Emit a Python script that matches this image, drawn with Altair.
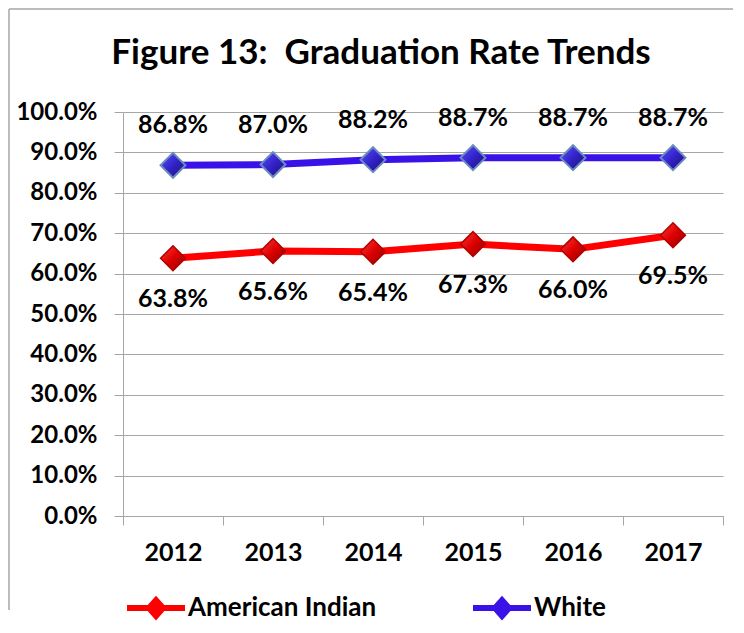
import altair as alt
import pandas as pd

years = ["2012", "2013", "2014", "2015", "2016", "2017"]
american_indian = [63.8, 65.6, 65.4, 67.3, 66.0, 69.5]
white = [86.8, 87.0, 88.2, 88.7, 88.7, 88.7]
series = ["American Indian", "White"]
line_colors = ["#FF0000", "#3A12E8"]

rows = []
for yr, a, w in zip(years, american_indian, white):
    rows.append({"year": yr, "series": "American Indian", "rate": a / 100})
    rows.append({"year": yr, "series": "White", "rate": w / 100})
df = pd.DataFrame(rows)

FONT = "Lato"
GRID = "#A6A6A6"

x = alt.X(
    "year:O", title=None, sort=years,
    scale=alt.Scale(type="band", paddingInner=0, paddingOuter=0),
    axis=alt.Axis(labelAngle=0, labelFontSize=25, labelFontWeight="bold", labelColor="black",
                  tickBand="extent", tickSize=9, tickColor=GRID, domainColor=GRID,
                  labelPadding=15, grid=False),
)
y = alt.Y(
    "rate:Q", title=None, scale=alt.Scale(domain=[0, 1], nice=False),
    axis=alt.Axis(tickCount=10, format=".1%", labelFontSize=24, labelFontWeight="bold",
                  labelColor="black", tickSize=9, tickColor=GRID, domainColor=GRID,
                  gridColor=GRID, labelPadding=17),
)

LEGEND_PATH = ("M-1,0H1 M0,-0.27L0.24,0L0,0.27L-0.24,0Z "
               "M0,-0.13L0.12,0L0,0.13L-0.12,0Z")

base = alt.Chart(df)

lines = base.mark_line(strokeWidth=7).encode(
    x=x, y=y,
    color=alt.Color(
        "series:N", scale=alt.Scale(domain=series, range=line_colors),
        legend=alt.Legend(title=None, orient="none", legendX=1, legendY=464,
                          direction="horizontal", symbolType=LEGEND_PATH, symbolSize=3364,
                          symbolStrokeWidth=6, labelFontSize=26, labelFontWeight="bold",
                          labelColor="black", columnPadding=84, labelOffset=0,
                          labelLimit=400),
    ),
)

red_grad = alt.Gradient(gradient="linear", x1=0, y1=0, x2=1, y2=1,
                        stops=[alt.GradientStop(color="#FF3A3A", offset=0),
                               alt.GradientStop(color="#DD0000", offset=0.5),
                               alt.GradientStop(color="#8A0000", offset=1)])
blue_grad = alt.Gradient(gradient="linear", x1=0, y1=0, x2=1, y2=1,
                         stops=[alt.GradientStop(color="#5A50FF", offset=0),
                                alt.GradientStop(color="#3322C8", offset=0.5),
                                alt.GradientStop(color="#1A1070", offset=1)])

pts_ai = base.transform_filter(alt.datum.series == "American Indian").mark_point(
    shape="diamond", filled=True, size=620, fill=red_grad, stroke="#B00000",
    strokeWidth=1.5, opacity=1).encode(x=x, y=y)
pts_w = base.transform_filter(alt.datum.series == "White").mark_point(
    shape="diamond", filled=True, size=620, fill=blue_grad, stroke="#6A8BC0",
    strokeWidth=2, opacity=1).encode(x=x, y=y)

txt_w = base.transform_filter(alt.datum.series == "White").mark_text(
    dy=-40, fontSize=25, fontWeight="bold", color="black").encode(
    x=x, y=y, text=alt.Text("rate:Q", format=".1%"))
txt_ai = base.transform_filter(alt.datum.series == "American Indian").mark_text(
    dy=41, fontSize=25, fontWeight="bold", color="black").encode(
    x=x, y=y, text=alt.Text("rate:Q", format=".1%"))

frame_df = pd.DataFrame({"k": [0]})
frame_left = alt.Chart(frame_df).mark_rule(color=GRID, strokeWidth=1.5).encode(
    x=alt.value(-114), y=alt.value(-103), y2=alt.value(498))
frame_top = alt.Chart(frame_df).mark_rule(color=GRID, strokeWidth=1.5).encode(
    x=alt.value(-114), x2=alt.value(610), y=alt.value(-103))

chart = alt.layer(frame_left, frame_top, lines, pts_ai, pts_w, txt_w, txt_ai).properties(
    width=600, height=404,
    padding={"left": 0, "top": 0, "right": 0, "bottom": 0},
    title=alt.Title("Figure 13:\u00a0 Graduation Rate Trends", fontSize=35, fontWeight="bold",
                    color="black", anchor="middle", dx=-42, offset=-63, font=FONT),
).configure(font=FONT).configure_view(strokeWidth=0)

chart.save("out.html", embed_options={"renderer": "svg", "actions": False})
